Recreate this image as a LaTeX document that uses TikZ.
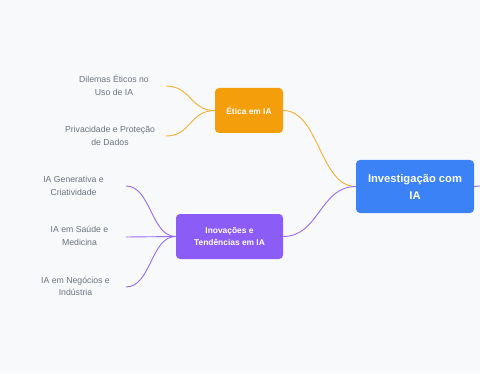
\documentclass[tikz,border=0pt]{standalone}
\usepackage{fontspec}
\setmainfont{Liberation Sans}
\definecolor{bgc}{HTML}{F8F9FB}
\definecolor{rootc}{HTML}{3B82F6}
\definecolor{orc}{HTML}{F59E0B}
\definecolor{puc}{HTML}{8B5CF6}
\definecolor{leafc}{HTML}{6B7280}
\begin{document}
\begin{tikzpicture}[x=1pt,y=1pt,
  rootbox/.style={fill=rootc, rounded corners=4pt, minimum width=118pt, minimum height=53pt, text=white, align=center, font=\fontsize{11.2}{17}\selectfont\bfseries, inner sep=0pt},
  branchbox/.style={rounded corners=4pt, minimum height=45pt, text=white, align=center, font=\fontsize{8.4}{12.3}\selectfont\bfseries, inner sep=0pt},
  leaf/.style={text=leafc, align=center, font=\fontsize{8.7}{12.5}\selectfont, inner sep=0pt},
  olink/.style={draw=orc!85, line width=0.9pt},
  plink/.style={draw=puc!90, line width=0.9pt}
]
\fill[bgc] (0,0) rectangle (480,373);
\useasboundingbox (0,0) rectangle (480,373);

\node[rootbox] (root) at (415,186.5) {Investigação com\\IA};
\node[branchbox, fill=orc, minimum width=68pt] (etica) at (249,262.5) {Ética em IA};
\node[branchbox, fill=puc, minimum width=107pt] (inov) at (229.5,136.5) {Inovações e\\Tendências em IA};

\node[leaf] (d1) at (114,287.5) {Dilemas Éticos no\\Uso de IA};
\node[leaf] (d2) at (110,237) {Privacidade e Proteção\\de Dados};
\node[leaf] (p1) at (73.5,187) {IA Generativa e\\Criatividade};
\node[leaf] (p2) at (79.5,137) {IA em Saúde e\\Medicina};
\node[leaf] (p3) at (75.5,86.5) {IA em Negócios e\\Indústria};

\coordinate (d1e) at (166,287);
\coordinate (d2e) at (166,237);
\coordinate (p1e) at (126,187);
\coordinate (p2e) at (126,136);
\coordinate (p3e) at (126,86);
\coordinate (edge) at (480,187);

\draw[olink] (root.west) .. controls +(-36,0) and +(36,0) .. (etica.east);
\draw[plink] (root.west) .. controls +(-36,0) and +(36,0) .. (inov.east);
\draw[plink] (root.east) -- (edge);

\draw[olink] (etica.west) .. controls +(-25,0) and +(25,0) .. (d1e);
\draw[olink] (etica.west) .. controls +(-25,0) and +(25,0) .. (d2e);

\draw[plink] (inov.west) .. controls +(-25,0) and +(25,0) .. (p1e);
\draw[plink] (inov.west) -- (p2e);
\draw[plink] (inov.west) .. controls +(-25,0) and +(25,0) .. (p3e);
\end{tikzpicture}
\end{document}
